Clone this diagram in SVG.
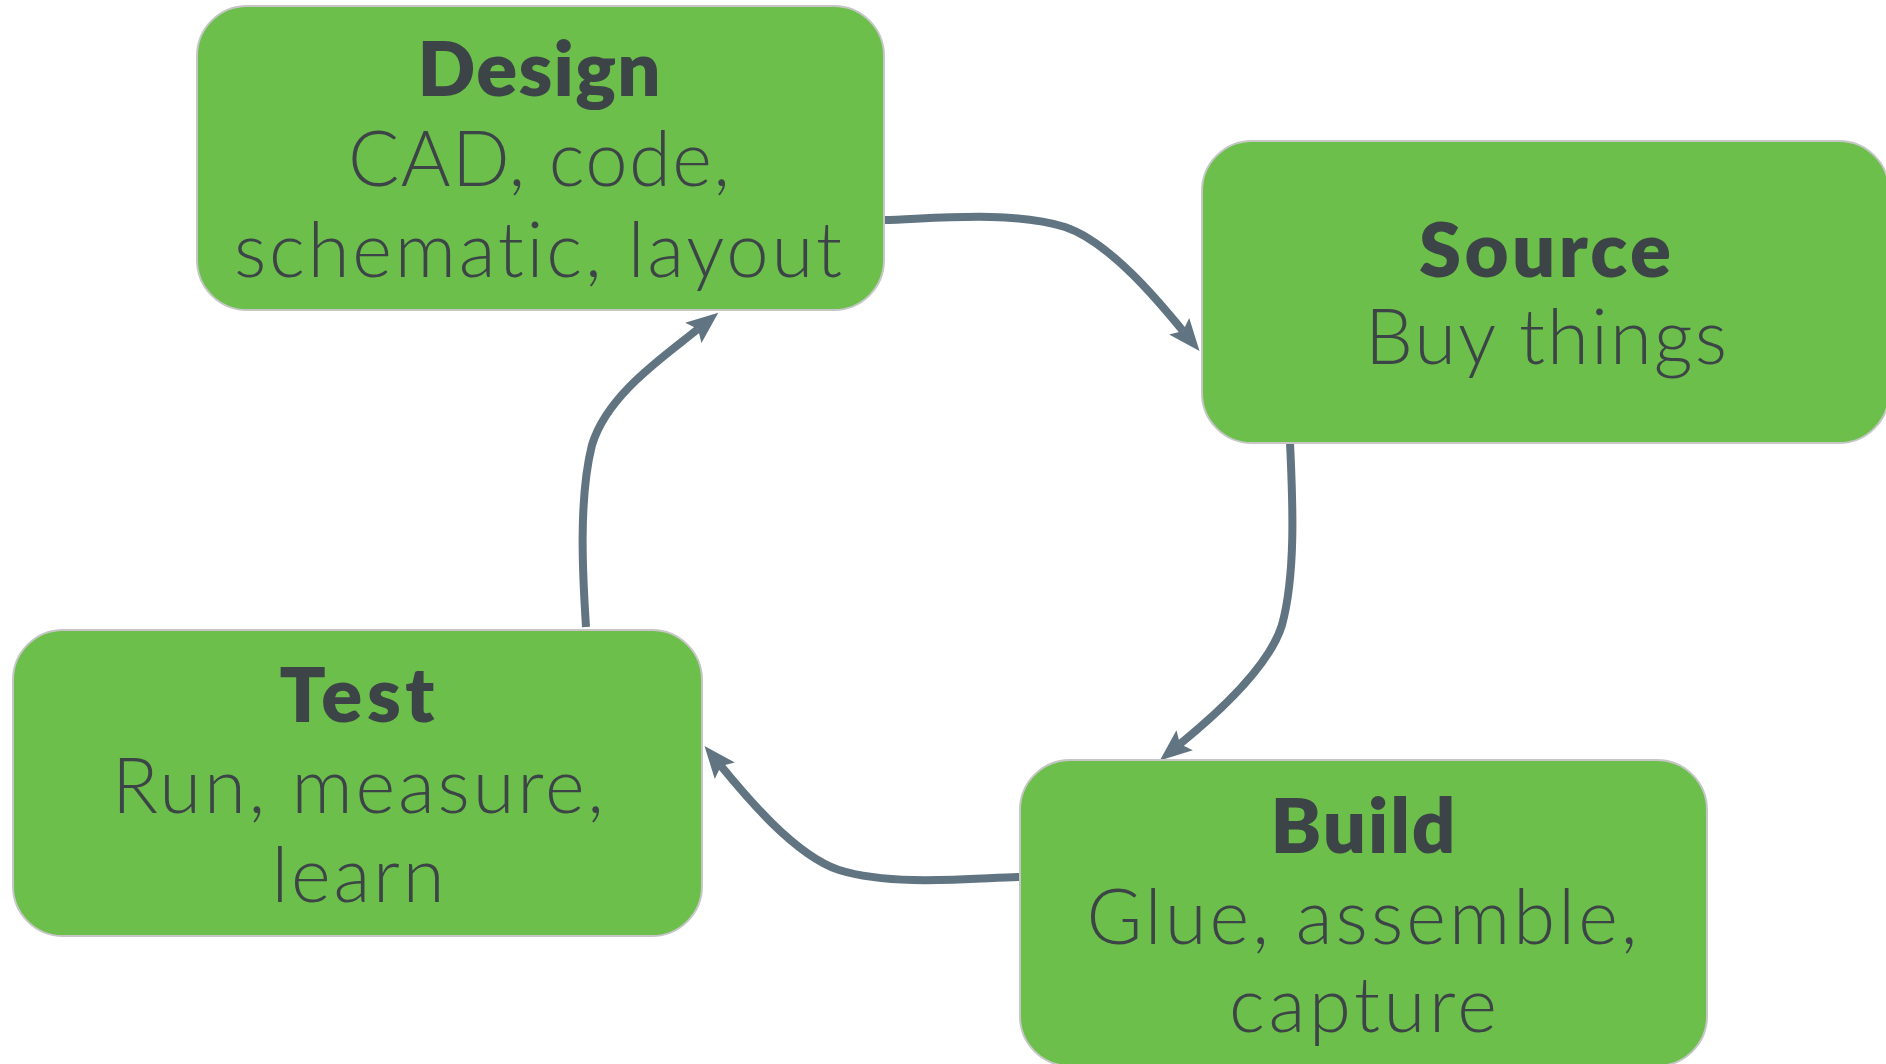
<svg xmlns="http://www.w3.org/2000/svg" width="1886" height="1064" viewBox="0 0 1886 1064">
<style>
.box{fill:#6cbf4a;stroke:#c6c6c6;stroke-width:2}
.t{font-family:Lato,"Liberation Sans",sans-serif;font-size:76px;fill:#3c4447;text-anchor:middle;font-variant-ligatures:none}
.b{font-weight:800}
.l{font-weight:300}
.c{fill:none;stroke:#617482;stroke-width:8}
</style>
<defs>
<marker id="ah" viewBox="0 0 32 26" refX="6" refY="13" markerWidth="32" markerHeight="26" markerUnits="userSpaceOnUse" orient="auto">
<path d="M0,0 L32,13 L0,26 L6,13 z" fill="#617482"/>
</marker>
</defs>
<rect width="1886" height="1064" fill="#ffffff"/>
<g id="connectors">
<path class="c" marker-end="url(#ah)" d="M884,220 C930,219 1010,210 1065,227 C1110,242 1160,303 1183,331"/>
<path class="c" marker-end="url(#ah)" d="M1290,442 C1292,490 1297,570 1282,625 C1268,670 1212,718 1180,744"/>
<path class="c" marker-end="url(#ah)" d="M1020,877 C974,878 894,887 839,870 C794,855 744,794 721,766"/>
<path class="c" marker-end="url(#ah)" d="M586,627 C583,580 578,500 592,445 C607,395 662,358 698,329"/>
</g>
<g id="design">
<rect class="box" x="197" y="6" width="687" height="304" rx="50"/>
<text class="t b" x="539" y="96" textLength="243" lengthAdjust="spacing">Design</text>
<text class="t l" x="539" y="186" textLength="382" lengthAdjust="spacing">CAD, code,</text>
<text class="t l" x="538" y="277" textLength="608" lengthAdjust="spacing">schematic, layout</text>
</g>
<g id="source">
<rect class="box" x="1202" y="141" width="687" height="302" rx="50"/>
<text class="t b" x="1545" y="277" textLength="252" lengthAdjust="spacing">Source</text>
<text class="t l" x="1546" y="364" textLength="362" lengthAdjust="spacing">Buy things</text>
</g>
<g id="test">
<rect class="box" x="13" y="630" width="689" height="306" rx="50"/>
<text class="t b" x="357" y="722" textLength="155" lengthAdjust="spacing">Test</text>
<text class="t l" x="358" y="813" textLength="492" lengthAdjust="spacing">Run, measure,</text>
<text class="t l" x="358" y="902" textLength="173" lengthAdjust="spacing">learn</text>
</g>
<g id="build">
<rect class="box" x="1020" y="760" width="687" height="306" rx="50"/>
<text class="t b" x="1363" y="853" textLength="185" lengthAdjust="spacing">Build</text>
<text class="t l" x="1362" y="944" textLength="551" lengthAdjust="spacing">Glue, assemble,</text>
<text class="t l" x="1363" y="1032" textLength="268" lengthAdjust="spacing">capture</text>
</g>
</svg>
